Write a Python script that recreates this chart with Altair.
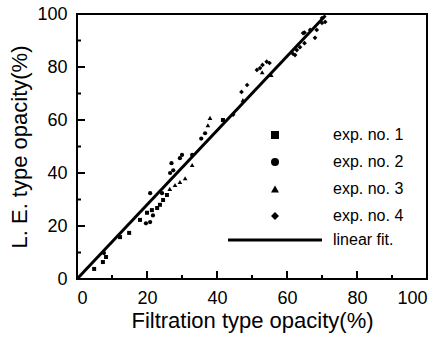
import altair as alt
import pandas as pd

# ---- data ----
exp1_x = [4.9, 7.4, 8.3, 12.3, 14.9, 18.0, 20.0, 21.4, 22.9, 23.7, 24.6, 25.7, 41.7]
exp1_y = [3.8, 6.4, 8.3, 15.8, 17.4, 22.3, 25.0, 26.0, 26.8, 28.0, 29.8, 31.7, 60.0]

exp2_x = [7.7, 19.7, 20.9, 20.9, 21.7, 24.3, 26.6, 27.0, 27.5, 29.4, 30.0, 32.9, 35.5, 36.6]
exp2_y = [9.8, 21.0, 21.5, 32.4, 24.0, 32.4, 40.0, 43.7, 41.0, 45.6, 46.8, 46.8, 53.0, 55.0]

exp3_x = [26.5, 28.0, 29.4, 30.9, 32.9, 37.4, 38.0, 47.4, 52.9, 55.5]
exp3_y = [34.0, 35.5, 36.6, 38.0, 43.0, 58.0, 60.8, 67.5, 78.0, 77.0]

exp4_x = [44.6, 47.0, 48.6, 51.4, 52.3, 53.0, 54.2, 55.0, 61.7, 62.3, 62.8, 63.7,
          64.6, 65.0, 65.0, 66.6, 68.0, 68.5, 70.0, 70.0, 70.9]
exp4_y = [62.0, 70.6, 73.2, 78.9, 79.6, 80.8, 82.0, 81.5, 85.0, 84.5, 86.4, 87.5,
          92.8, 89.0, 93.0, 94.0, 91.0, 94.0, 96.6, 98.5, 97.0]

fit_x = [0, 71]
fit_y = [0, 99.4]

legend_labels = ["exp. no. 1", "exp. no. 2", "exp. no. 3", "exp. no. 4"]
legend_shapes = ["square", "circle", "triangle-up", "diamond"]
fit_label = "linear fit."

major_ticks = [0, 20, 40, 60, 80, 100]
minor_ticks = [10, 30, 50, 70, 90]

# ---- chart ----
W, H = 350, 265
FONT = "Liberation Sans"

xscale = alt.Scale(domain=[0, 100], nice=False, zero=False)
yscale = alt.Scale(domain=[0, 100], nice=False, zero=False)

xaxis = alt.Axis(values=major_ticks, ticks=False, domain=False, grid=False,
                 labelFontSize=18, labelFont=FONT, labelColor="black", labelPadding=10,
                 title="Filtration type opacity(%)", titleFontSize=22, titleFont=FONT,
                 titleFontWeight="normal", titleColor="black", titlePadding=3)
yaxis = alt.Axis(values=major_ticks, ticks=False, domain=False, grid=False,
                 labelFontSize=18, labelFont=FONT, labelColor="black", labelPadding=10,
                 title="L. E. type opacity(%)", titleFontSize=22, titleFont=FONT,
                 titleFontWeight="normal", titleColor="black", titlePadding=5)

def scatter(xs, ys, shape, size):
    df = pd.DataFrame({"x": xs, "y": ys})
    return alt.Chart(df).mark_point(shape=shape, filled=True, color="black",
                                    opacity=1, size=size).encode(
        x=alt.X("x:Q", scale=xscale, axis=xaxis),
        y=alt.Y("y:Q", scale=yscale, axis=yaxis))

layers = [
    scatter(exp1_x, exp1_y, "square", 16),
    scatter(exp2_x, exp2_y, "circle", 18),
    scatter(exp3_x, exp3_y, "triangle-up", 22),
    scatter(exp4_x, exp4_y, "diamond", 22),
]

fit_df = pd.DataFrame({"x": fit_x, "y": fit_y})
layers.append(alt.Chart(fit_df).mark_line(color="black", strokeWidth=3).encode(
    x=alt.X("x:Q", scale=xscale, axis=xaxis),
    y=alt.Y("y:Q", scale=yscale, axis=yaxis)))

# inward ticks
maj_df = pd.DataFrame({"v": major_ticks[1:-1]})
min_df = pd.DataFrame({"v": minor_ticks})
layers.append(alt.Chart(maj_df).mark_rule(color="black", strokeWidth=2).encode(
    x=alt.X("v:Q", scale=xscale), y=alt.value(H), y2=alt.value(H - 8)))
layers.append(alt.Chart(min_df).mark_rule(color="black", strokeWidth=2).encode(
    x=alt.X("v:Q", scale=xscale), y=alt.value(H), y2=alt.value(H - 4)))
layers.append(alt.Chart(maj_df).mark_rule(color="black", strokeWidth=2).encode(
    y=alt.Y("v:Q", scale=yscale), x=alt.value(0), x2=alt.value(8)))
layers.append(alt.Chart(min_df).mark_rule(color="black", strokeWidth=2).encode(
    y=alt.Y("v:Q", scale=yscale), x=alt.value(0), x2=alt.value(4)))

# manual legend
for i, (lab, shp) in enumerate(zip(legend_labels, legend_shapes)):
    ldf = pd.DataFrame({"label": [lab]})
    ypix = 121 + i * 27
    layers.append(alt.Chart(ldf).mark_point(shape=shp, filled=True, color="black",
                                            opacity=1, size=64).encode(
        x=alt.value(198), y=alt.value(ypix)))
    layers.append(alt.Chart(ldf).mark_text(align="left", baseline="middle", font=FONT,
                                           fontSize=16, color="black").encode(
        x=alt.value(256), y=alt.value(ypix), text="label:N"))

fdf = pd.DataFrame({"label": [fit_label]})
layers.append(alt.Chart(fdf).mark_rule(color="black", strokeWidth=3).encode(
    x=alt.value(151), x2=alt.value(245), y=alt.value(226)))
layers.append(alt.Chart(fdf).mark_text(align="left", baseline="middle", font=FONT,
                                       fontSize=16, color="black").encode(
    x=alt.value(256), y=alt.value(226), text="label:N"))

chart = alt.layer(*layers).properties(
    width=W, height=H,
    autosize=alt.AutoSizeParams(type="none"),
    padding={"left": 77, "top": 14, "right": 17, "bottom": 66},
    background="white",
).configure_view(stroke="black", strokeWidth=2)

chart.save("out.html", embed_options={"renderer": "svg", "actions": False})
